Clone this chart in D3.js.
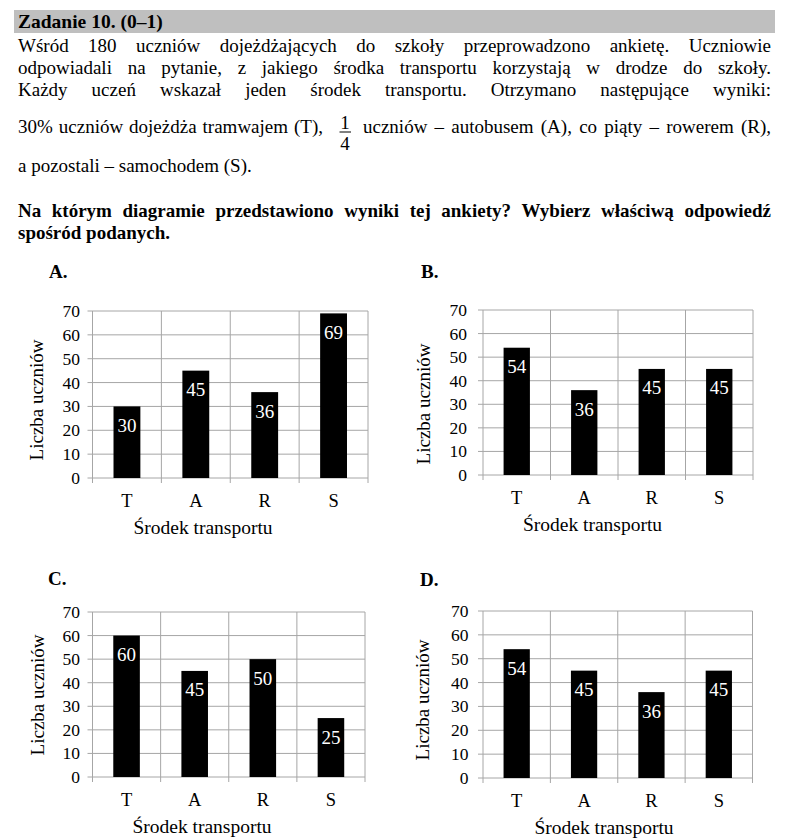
<!DOCTYPE html>
<html>
<head>
<meta charset="utf-8">
<script src="https://cdn.jsdelivr.net/npm/d3@7"></script>
<style>
  html, body { margin: 0; padding: 0; background: #fff; }
  svg { display: block; }
</style>
</head>
<body>
<svg id="page" width="787" height="840" font-family="'Liberation Serif', 'Times New Roman', Times, 'DejaVu Serif', serif"></svg>
<script>
// ---------- data ----------
const categories = ["T", "A", "R", "S"];
const valuesA = [30, 45, 36, 69];
const valuesB = [54, 36, 45, 45];
const valuesC = [60, 45, 50, 25];
const valuesD = [54, 45, 36, 45];
const yTicks = [0, 10, 20, 30, 40, 50, 60, 70];
const panelLetters = ["A.", "B.", "C.", "D."];
const yAxisTitle = "Liczba uczniów";
const xAxisTitle = "Środek transportu";

const headerTitle = "Zadanie 10. (0–1)";
const bodyLines = [
  "Wśród 180 uczniów dojeżdżających do szkoły przeprowadzono ankietę. Uczniowie",
  "odpowiadali na pytanie, z jakiego środka transportu korzystają w drodze do szkoły.",
  "Każdy uczeń wskazał jeden środek transportu. Otrzymano następujące wyniki:"
];
const line4Before = "30% uczniów dojeżdża tramwajem (T),";
const fractionNum = "1";
const fractionDen = "4";
const line4After = "uczniów – autobusem (A), co piąty – rowerem (R),";
const line5 = "a pozostali – samochodem (S).";
const questionLines = [
  "Na którym diagramie przedstawiono wyniki tej ankiety? Wybierz właściwą odpowiedź",
  "spośród podanych."
];

// ---------- page ----------
const FONT = "'Liberation Serif', 'Times New Roman', Times, 'DejaVu Serif', serif";
const svg = d3.select("#page");
svg.append("rect").attr("width", 787).attr("height", 840).attr("fill", "#fff");

// header bar
svg.append("rect").attr("x", 14).attr("y", 10).attr("width", 761).attr("height", 23).attr("fill", "#bfbfbf");
svg.append("text").attr("x", 18).attr("y", 28).attr("font-family", FONT).attr("font-size", 19.5).attr("font-weight", "bold")
  .attr("fill", "#000").text(headerTitle);

function justify(g, str, x0, x1, y, size, weight) {
  const words = str.split(" ");
  const nodes = words.map(w => g.append("text").attr("y", y).attr("font-family", FONT).attr("font-size", size)
    .attr("font-weight", weight || "normal").attr("fill", "#000").text(w));
  const widths = nodes.map(n => n.node().getComputedTextLength());
  const total = d3.sum(widths);
  const gap = words.length > 1 ? (x1 - x0 - total) / (words.length - 1) : 0;
  let x = x0;
  nodes.forEach((n, i) => { n.attr("x", x); x += widths[i] + gap; });
}

const body = svg.append("g").attr("font-family", FONT);
const lineY = [52, 74, 96];
bodyLines.forEach((l, i) => justify(body, l, 18, 771, lineY[i], 19));
justify(body, line4Before, 18, 323, 133, 19);
body.append("text").attr("x", 345).attr("y", 128.5).attr("text-anchor", "middle").attr("font-size", 19).text(fractionNum);
body.append("line").attr("x1", 339.5).attr("x2", 351).attr("y1", 132).attr("y2", 132).attr("stroke", "#000").attr("stroke-width", 1);
body.append("text").attr("x", 345).attr("y", 150).attr("text-anchor", "middle").attr("font-size", 19).text(fractionDen);
justify(body, line4After, 363, 771, 133, 19);
body.append("text").attr("x", 18).attr("y", 172).attr("font-size", 19).text(line5);
justify(body, questionLines[0], 18, 771, 217, 19, "bold");
body.append("text").attr("x", 18).attr("y", 239).attr("font-size", 19).attr("font-weight", "bold").text(questionLines[1]);

// ---------- charts ----------
const panels = [
  { values: valuesA, letter: panelLetters[0], lx: 49, ly: 278, x0: 92.5, x1: 368, yTop: 311, yBot: 478, tickGap: 12.5, ytx: 37, yty: 400, xtx: 203 },
  { values: valuesB, letter: panelLetters[1], lx: 421, ly: 278, x0: 483, x1: 753, yTop: 310, yBot: 475, tickGap: 16, ytx: 424, yty: 404, xtx: 592.5 },
  { values: valuesC, letter: panelLetters[2], lx: 48, ly: 585, x0: 92.5, x1: 365, yTop: 612, yBot: 777, tickGap: 12.5, ytx: 37.5, yty: 695, xtx: 202 },
  { values: valuesD, letter: panelLetters[3], lx: 420, ly: 586, x0: 483, x1: 752.5, yTop: 611, yBot: 778, tickGap: 14.5, ytx: 423, yty: 700, xtx: 604 }
];

const gridColor = "#a6a6a6";

panels.forEach(p => {
  const g = svg.append("g").attr("font-family", FONT);
  const x = d3.scaleBand().domain(categories).range([p.x0, p.x1]).paddingInner(0.61).paddingOuter(0.305);
  const y = d3.scaleLinear().domain([0, 70]).range([p.yBot, p.yTop]);
  const step = x.step();

  // horizontal gridlines (with left tick stubs)
  g.selectAll(".hg").data(yTicks).join("line")
    .attr("x1", p.x0 - 5).attr("x2", p.x1)
    .attr("y1", d => y(d)).attr("y2", d => y(d))
    .attr("stroke", gridColor).attr("stroke-width", 1);
  // vertical gridlines at category boundaries (with bottom tick stubs)
  const bounds = d3.range(categories.length + 1).map(i => p.x0 + i * step);
  g.selectAll(".vg").data(bounds).join("line")
    .attr("x1", d => d).attr("x2", d => d)
    .attr("y1", p.yTop).attr("y2", p.yBot + 5)
    .attr("stroke", gridColor).attr("stroke-width", 1);

  // bars
  g.selectAll(".bar").data(p.values).join("rect")
    .attr("x", (d, i) => x(categories[i]))
    .attr("width", x.bandwidth())
    .attr("y", d => y(d))
    .attr("height", d => y(0) - y(d))
    .attr("fill", "#000");
  // value labels
  g.selectAll(".val").data(p.values).join("text")
    .attr("x", (d, i) => x(categories[i]) + x.bandwidth() / 2)
    .attr("y", d => y(d) + 25.5)
    .attr("text-anchor", "middle").attr("font-size", 19).attr("fill", "#fff")
    .text(d => d);

  // y tick labels
  g.selectAll(".yt").data(yTicks).join("text")
    .attr("x", p.x0 - p.tickGap).attr("y", d => y(d))
    .attr("dy", "0.34em").attr("text-anchor", "end").attr("font-size", 17.5).attr("fill", "#000")
    .text(d => d);
  // x tick labels
  g.selectAll(".xt").data(categories).join("text")
    .attr("x", d => x(d) + x.bandwidth() / 2).attr("y", p.yBot + 29)
    .attr("text-anchor", "middle").attr("font-size", 18.5).attr("fill", "#000")
    .text(d => d);

  // axis titles
  g.append("text").attr("transform", `translate(${p.ytx},${p.yty}) rotate(-90)`)
    .attr("text-anchor", "middle").attr("dy", "0.34em").attr("font-size", 19).attr("fill", "#000")
    .text(yAxisTitle);
  g.append("text").attr("x", p.xtx).attr("y", p.yBot + 56)
    .attr("text-anchor", "middle").attr("font-size", 19.5).attr("fill", "#000")
    .text(xAxisTitle);

  // panel letter
  g.append("text").attr("x", p.lx).attr("y", p.ly).attr("font-size", 19).attr("font-weight", "bold")
    .attr("fill", "#000").text(p.letter);
});
</script>
</body>
</html>
